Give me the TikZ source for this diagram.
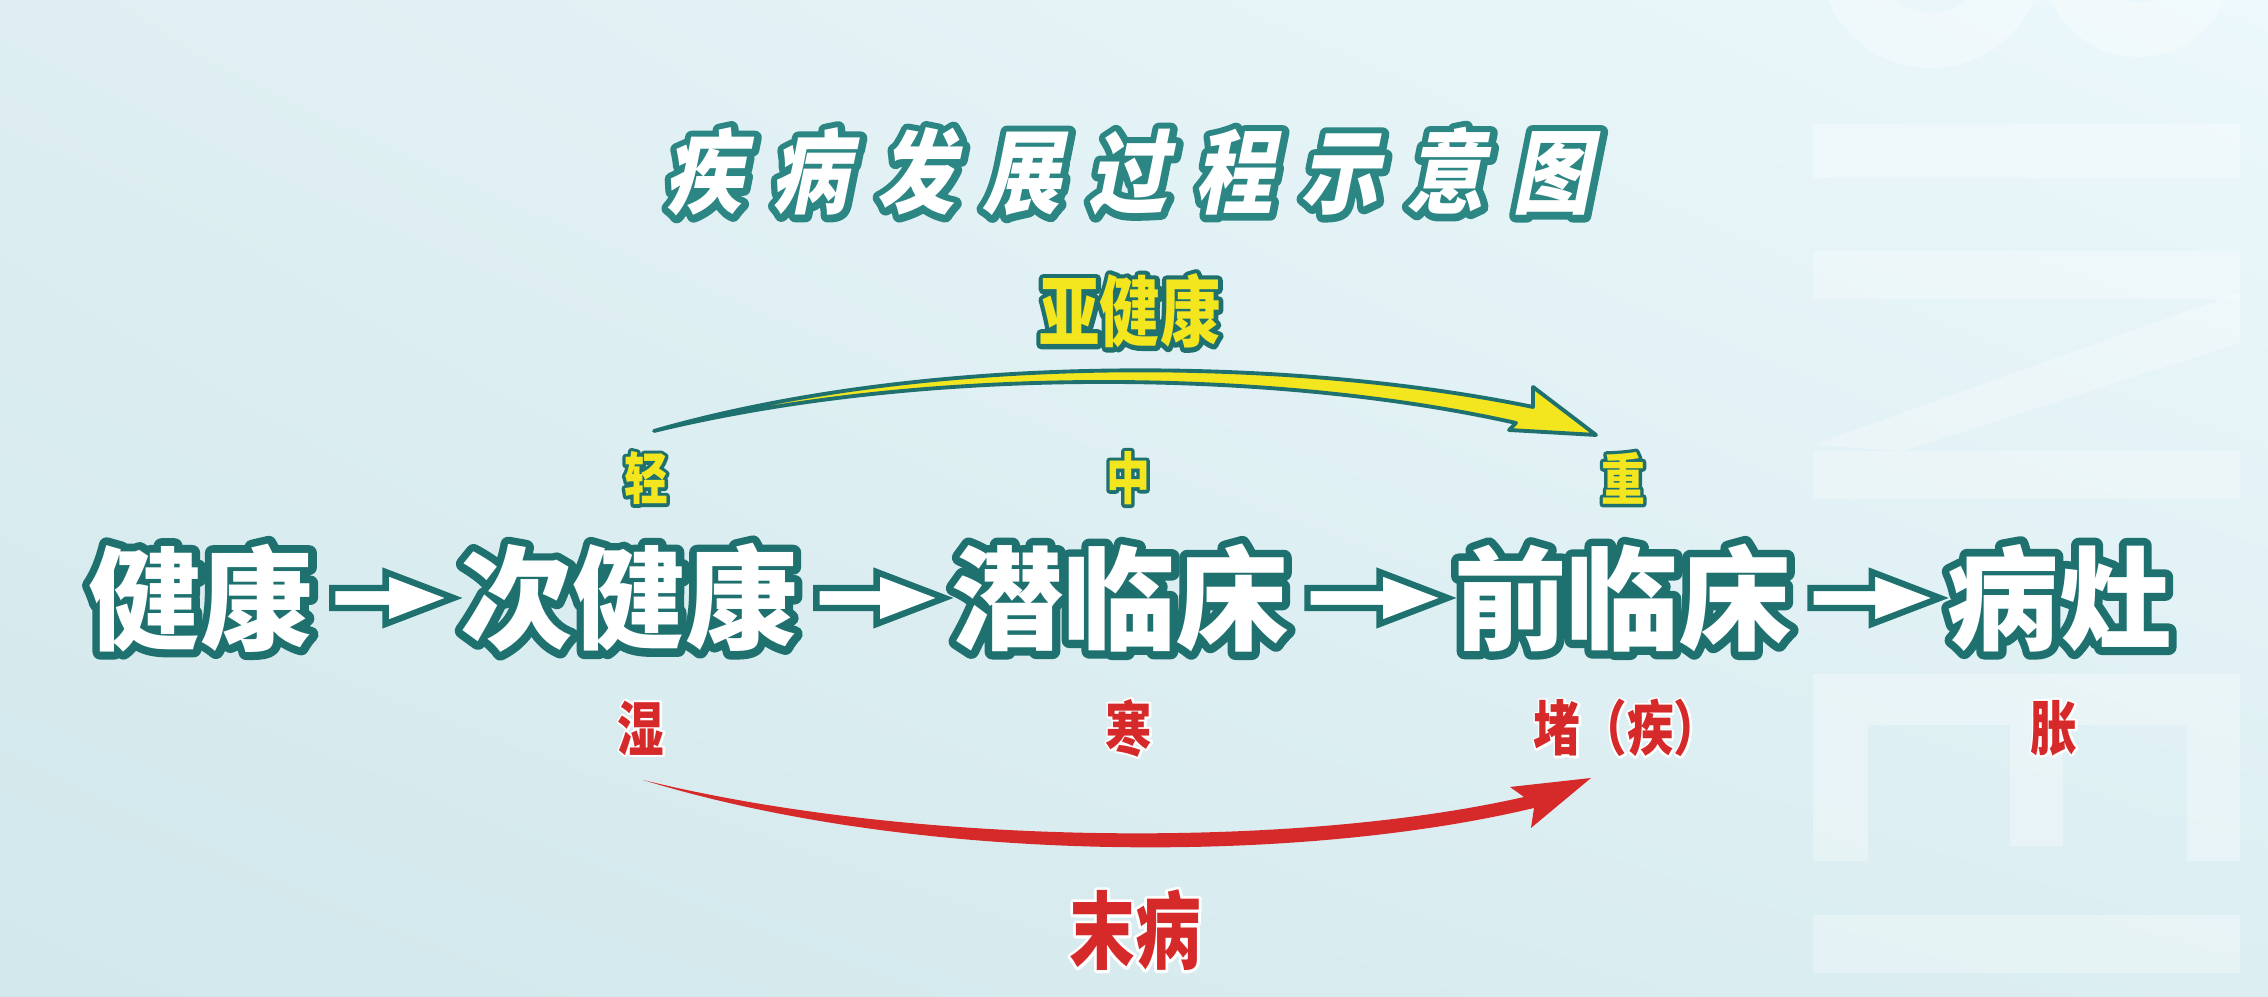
\documentclass[tikz,border=0pt]{standalone}
\usepackage{fontspec}
\usetikzlibrary{calc,positioning,shadings}

\newfontfamily\cjkfont{Noto Sans CJK SC}
\newfontfamily\stageedge{Noto Sans CJK SC}[FakeBold=14]
\newfontfamily\narrowfont{Noto Sans CJK SC}[FakeStretch=0.78]
\newfontfamily\tagedge{Noto Sans CJK SC}[FakeStretch=0.78, FakeBold=12]
\newfontfamily\redge{Noto Sans CJK SC}[FakeStretch=0.78, FakeBold=7]
\newfontfamily\titlefont{Noto Sans CJK SC}[FakeSlant=0.2, FakeStretch=0.86, LetterSpace=30]
\newfontfamily\titleedge{Noto Sans CJK SC}[FakeSlant=0.2, FakeStretch=0.86, LetterSpace=30, FakeBold=15]

\definecolor{rim}{HTML}{1F7170}
\definecolor{titlerim}{HTML}{2C8784}
\definecolor{mildyellow}{HTML}{F4E61E}
\definecolor{coldred}{HTML}{D62A2A}
\definecolor{bgA}{HTML}{D2E8EC}
\definecolor{bgB}{HTML}{DEEEF2}
\definecolor{bgC}{HTML}{ECF8FB}
\definecolor{bgD}{HTML}{DCEEF2}

% text with a coloured rim: #1 rim colour, #2 emboldened family, #3 text
\newcommand{\ringtext}[3]{\makebox[0pt][l]{\special{pdf:literal direct 1 j 1 J}#2\textcolor{#1}{#3}}#3}

\begin{document}
\begin{tikzpicture}[
    stage/.style={font=\cjkfont\bfseries\fontsize{32}{36}\selectfont, text=white, inner sep=0pt},
    titletext/.style={font=\titlefont\bfseries\fontsize{26}{30}\selectfont, text=white, inner sep=0pt},
    grade/.style={font=\narrowfont\bfseries\fontsize{16}{18}\selectfont, text=mildyellow, inner sep=0pt},
    symptom/.style={font=\narrowfont\bfseries\fontsize{17}{19}\selectfont, text=coldred, inner sep=0pt},
    bigtag/.style={font=\narrowfont\bfseries\fontsize{22}{24}\selectfont, inner sep=0pt},
    flowarrow/.style={draw=rim, fill=white, line width=1.8pt,
        to path={let \p1=(\tikztostart), \p2=(\tikztotarget) in
            (\x1+0.18cm,\y1+0.1cm) -- (\x2-0.74cm,\y1+0.1cm) -- (\x2-0.74cm,\y1+0.26cm)
            -- (\x2-0.06cm,\y1) -- (\x2-0.74cm,\y1-0.26cm) -- (\x2-0.74cm,\y1-0.1cm)
            -- (\x1+0.18cm,\y1-0.1cm) -- cycle}},
    ghost/.style={fill=white, fill opacity=0.3}
]

% Background
\useasboundingbox (0,0) rectangle (22.68,9.97);
\shade[lower left=bgA, upper left=bgB, upper right=bgC, lower right=bgD] (0,0) rectangle (22.68,9.97);

% Faint shapes on the right
\begin{scope}
\clip (0,0) rectangle (22.68,9.97);
\fill[ghost, even odd rule] (19.31,10.41) circle (1.12) (19.31,10.41) circle (0.57);
\fill[ghost, even odd rule] (21.38,10.35) circle (0.95) (21.38,10.35) circle (0.41);
\fill[ghost] (18.13,8.19) rectangle (22.40,8.73);
\fill[ghost] (18.13,6.98) rectangle (22.40,7.46);
\fill[ghost] (18.13,5.52) -- (22.40,7.05) -- (22.40,6.54) -- (19.03,5.46) -- cycle;
\fill[ghost] (18.13,4.98) rectangle (22.40,5.46);
\fill[ghost] (18.13,2.72) rectangle (22.40,3.23);
\fill[ghost] (18.13,1.36) rectangle (18.68,2.72);
\fill[ghost] (20.10,1.51) rectangle (20.63,2.72);
\fill[ghost] (21.87,1.36) rectangle (22.40,2.72);
\fill[ghost] (18.13,0.24) rectangle (22.40,0.82);
\end{scope}

% Title
\node[titletext] (title) at (11.28,8.25) {\ringtext{titlerim}{\titleedge}{疾病发展过程示意图}};

% Stages
\node[stage] (health) at (2.01,3.99) {\ringtext{rim}{\stageedge}{健康}};
\node[stage] (subhealth) at (6.29,3.99) {\ringtext{rim}{\stageedge}{次健康}};
\node[stage] (latent) at (11.20,3.99) {\ringtext{rim}{\stageedge}{潜临床}};
\node[stage] (preclinical) at (16.23,3.99) {\ringtext{rim}{\stageedge}{前临床}};
\node[stage] (lesion) at (20.59,3.99) {\ringtext{rim}{\stageedge}{病灶}};

% Arrows between stages
\draw[flowarrow] (health.east) to (subhealth.west);
\draw[flowarrow] (subhealth.east) to (latent.west);
\draw[flowarrow] (latent.east) to (preclinical.west);
\draw[flowarrow] (preclinical.east) to (lesion.west);

% Grades above
\node[grade] (light) at ($(subhealth)+(0.17,1.2)$) {\ringtext{rim}{\tagedge}{轻}};
\node[grade] (middle) at ($(latent)+(0.08,1.2)$) {\ringtext{rim}{\tagedge}{中}};
\node[grade] (heavy) at ($(preclinical)+(0.0,1.2)$) {\ringtext{rim}{\tagedge}{重}};

% Symptoms below
\node[symptom] (damp) at ($(subhealth)+(0.12,-1.3)$) {\ringtext{white}{\redge}{湿}};
\node[symptom] (cold) at ($(latent)+(0.09,-1.3)$) {\ringtext{white}{\redge}{寒}};
\node[symptom] (block) at ($(preclinical)+(0.04,-1.3)$) {\ringtext{white}{\redge}{堵（疾）}};
\node[symptom] (swell) at ($(lesion)+(-0.05,-1.3)$) {\ringtext{white}{\redge}{胀}};

% Upper curved arrow
\filldraw[fill=mildyellow, draw=rim, line width=1.1pt, line join=round]
    (6.54,5.66) .. controls (9.3,6.45) and (12.9,6.40) .. (15.33,5.90)
    -- (15.33,6.10) -- (15.96,5.62) -- (15.09,5.67) -- (15.16,5.74)
    .. controls (12.8,6.27) and (9.3,6.33) .. (6.54,5.66) -- cycle;
\node[bigtag, text=mildyellow] (subtag) at (11.30,6.86) {\ringtext{rim}{\tagedge}{亚健康}};

% Lower curved arrow
\fill[coldred]
    (6.43,2.17) .. controls (9.2,1.49) and (13.0,1.49) .. (15.24,2.00)
    -- (15.10,2.10) -- (15.91,2.19) -- (15.31,1.69) -- (15.34,1.89)
    .. controls (13.0,1.33) and (9.2,1.32) .. (6.43,2.17) -- cycle;
\node[bigtag, text=coldred, font=\narrowfont\bfseries\fontsize{24}{26}\selectfont] (notyet) at (11.35,0.67) {\ringtext{white}{\redge}{末病}};

\end{tikzpicture}
\end{document}
